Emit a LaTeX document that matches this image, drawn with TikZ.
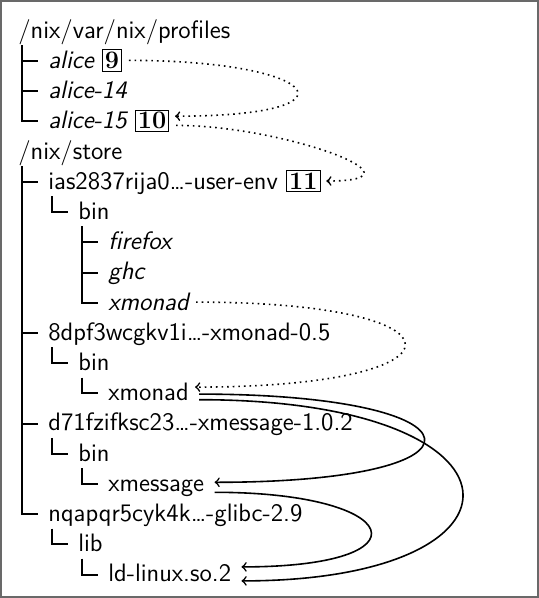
\documentclass[tikz,border=0pt]{standalone}
\usepackage{xcolor}
\usepackage{tikz}
\usetikzlibrary{positioning}
\definecolor{framegray}{RGB}{105,105,105}

\begin{document}
\begin{tikzpicture}[x=0.5pt, y=-0.5pt,
  entry/.style={inner sep=0pt, anchor=base west, font=\sffamily\fontsize{12.6}{15}\selectfont},
  link/.style={entry, font=\sffamily\itshape\fontsize{12.6}{15}\selectfont},
  numbox/.style={draw, inner sep=1.2pt, anchor=base west, font=\rmfamily\bfseries\fontsize{12.6}{15}\selectfont},
  branch/.style={line width=1pt},
  symref/.style={->, line width=0.8pt, dotted, shorten <=3.5pt, shorten >=3pt},
  dep/.style={->, line width=0.8pt, shorten <=5pt, shorten >=5pt}]
\useasboundingbox (0,0) rectangle (539,598);
\draw[framegray, line width=1pt] (1,1) rectangle (538,597);
\node[entry] (prof) at (18,38.3) {/nix/var/nix/profiles};
\node[link] (alice) at (48,68.5) {alice};
\node[link] (alice14) at (48,98.7) {alice-14};
\node[link] (alice15) at (48,128.9) {alice-15};
\node[entry] (store) at (18,159.1) {/nix/store};
\node[entry] (userenv) at (48,189.3) {ias2837rija0\dots-user-env};
\node[entry] (uebin) at (78,219.5) {bin};
\node[link] (firefox) at (108,249.7) {firefox};
\node[link] (ghc) at (108,279.9) {ghc};
\node[link] (uexmonad) at (108,310.1) {xmonad};
\node[entry] (xmonadpkg) at (48,340.3) {8dpf3wcgkv1i\dots-xmonad-0.5};
\node[entry] (xbin) at (78,370.5) {bin};
\node[entry] (xmonad) at (108,400.7) {xmonad};
\node[entry] (xmsgpkg) at (48,430.9) {d71fzifksc23\dots-xmessage-1.0.2};
\node[entry] (mbin) at (78,461.1) {bin};
\node[entry] (xmessage) at (108,491.3) {xmessage};
\node[entry] (glibc) at (48,521.5) {nqapqr5cyk4k\dots-glibc-2.9};
\node[entry] (lib) at (78,551.7) {lib};
\node[entry] (ldlinux) at (108,581.9) {ld-linux.so.2};
\node[numbox] (gen9) at ([xshift=4pt]alice.base east) {9};
\node[numbox] (gen10) at ([xshift=4pt]alice15.base east) {10};
\node[numbox] (gen11) at ([xshift=4pt]userenv.base east) {11};
\foreach \p/\c in {prof/alice, prof/alice14, prof/alice15, store/userenv, store/xmonadpkg, store/xmsgpkg, store/glibc, userenv/uebin, uebin/firefox, uebin/ghc, uebin/uexmonad, xmonadpkg/xbin, xbin/xmonad, xmsgpkg/mbin, mbin/xmessage, glibc/lib, lib/ldlinux}
  \draw[branch] ([shift={(2pt,-3.5pt)}]\p.base west) |- ([shift={(-5pt,3.7pt)}]\c.base west);
\draw[symref] (gen9.east) .. controls +(99pt,0) and +(99pt,0) .. ([yshift=2.3pt]gen10.east);
\draw[symref] ([yshift=-2.3pt]gen10.east) .. controls +(57pt,0) and +(57pt,0) .. (gen11.east);
\draw[symref] ([yshift=4pt]uexmonad.base east) .. controls +(143pt,0) and +(143pt,0) .. ([yshift=6.8pt]xmonad.base east);
\draw[dep] ([yshift=3.3pt]xmonad.base east) .. controls +(150pt,0) and +(150pt,0) .. ([yshift=4.5pt]xmessage.base east);
\draw[dep] ([yshift=0.5pt]xmonad.base east) .. controls +(176pt,0) and +(157pt,0) .. ([yshift=0.5pt]ldlinux.base east);
\draw[dep] ([yshift=-0.5pt]xmessage.base east) .. controls +(100pt,0) and +(100pt,0) .. ([yshift=7.5pt]ldlinux.base east);
\end{tikzpicture}
\end{document}
